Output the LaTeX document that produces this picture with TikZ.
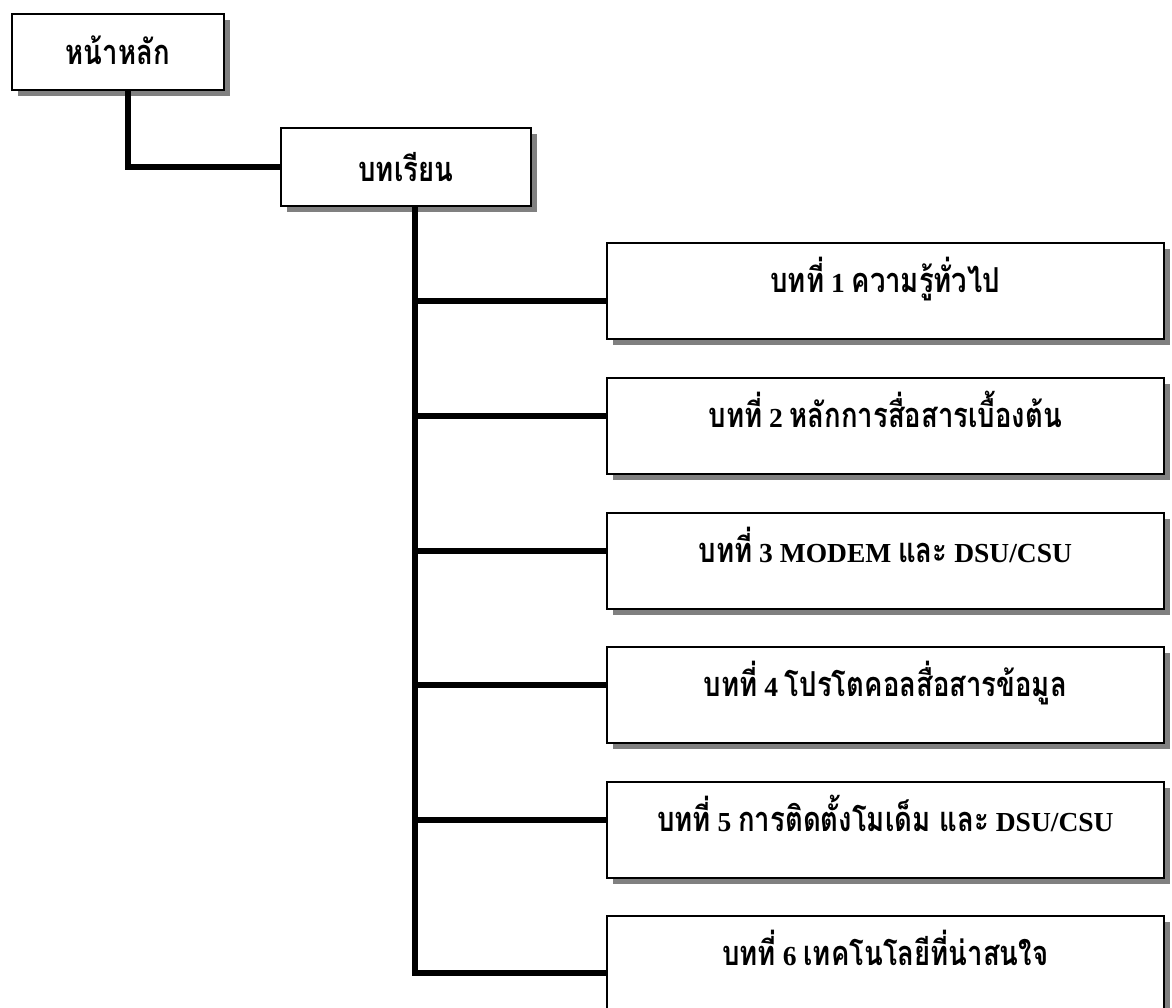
\documentclass[tikz,border=0pt]{standalone}
\usepackage{fontspec}
\setmainfont{Liberation Serif}
\newfontfamily\thai[Script=Thai, Scale=1.25, FakeStretch=0.8]{Loma}
\usetikzlibrary{shadows,calc}
\tikzset{
  box/.style={draw=black, line width=1.6pt, fill=white, anchor=north west,
    font=\fontsize{27.5}{30}\selectfont\bfseries, inner sep=0pt,
    drop shadow={shadow xshift=6pt, shadow yshift=-6pt, fill=black!50, opacity=1}},
  chap/.style={box, minimum width=557pt, minimum height=96pt,
    text height=17pt, text depth=13pt},
  conn/.style={line width=5.5pt, line join=miter},
}
\newcommand{\thx}[1]{{\thai #1}}
\begin{document}
\begin{tikzpicture}[x=1pt, y=-1pt]
\clip (0,0) rectangle (1172,1007);
\fill[white] (0,0) rectangle (1172,1007);
\node[box, minimum width=212pt, minimum height=76pt, text height=30pt, text depth=4pt] (home) at (11,13) {\thx{หน้าหลัก}};
\node[box, minimum width=250pt, minimum height=78pt, text height=32pt, text depth=3pt] (lesson) at (280,127) {\thx{บทเรียน}};
\node[chap] (c1) at (606,242) {\thx{บทที่} 1 \thx{ความรู้ทั่วไป}};
\node[chap] (c2) at (606,377) {\thx{บทที่} 2 \thx{หลักการสื่อสารเบื้องต้น}};
\node[chap] (c3) at (606,512) {\thx{บทที่} 3 MODEM \thx{และ} DSU/CSU};
\node[chap] (c4) at (606,646) {\thx{บทที่} 4 \thx{โปรโตคอลสื่อสารข้อมูล}};
\node[chap] (c5) at (606,781) {\thx{บทที่} 5 \thx{การติดตั้งโมเด็ม และ} DSU/CSU};
\node[chap] (c6) at (606,915) {\thx{บทที่} 6 \thx{เทคโนโลยีที่น่าสนใจ}};
\draw[conn] ([xshift=10pt]home.south) |- (lesson.west);
\draw[conn] ([xshift=9pt]lesson.south) |- ([yshift=-9pt]c6.west);
\draw[conn] ([yshift=-10pt]c1.west) -- ++(-192,0);
\draw[conn] ([yshift=10pt]c2.west) -- ++(-192,0);
\draw[conn] ([yshift=10pt]c3.west) -- ++(-192,0);
\draw[conn] ([yshift=10pt]c4.west) -- ++(-192,0);
\draw[conn] ([yshift=10pt]c5.west) -- ++(-192,0);
\end{tikzpicture}
\end{document}
